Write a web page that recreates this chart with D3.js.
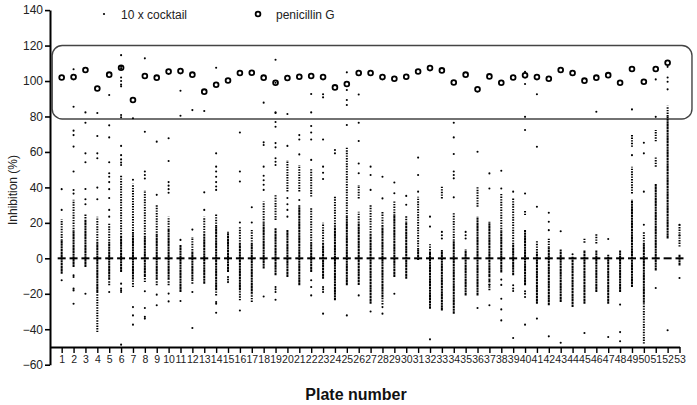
<!DOCTYPE html>
<html><head><meta charset="utf-8">
<script src="https://cdn.jsdelivr.net/npm/d3@7"></script>
<style>body{margin:0;background:#fff} svg{display:block;font-family:Arial,"Liberation Sans",sans-serif}</style>
</head><body><svg id="c" width="697" height="405"></svg>
<script>
const plates = d3.range(1, 54);
const yTicks = [-60, -40, -20, 0, 20, 40, 60, 80, 100, 120, 140];
const penicillinG = [102, 102.2, 106.2, 95.8, 103.6, 107.5, 89.3, 102.8, 101.9, 105.3,
  105.6, 103.6, 94, 97.9, 100.3, 104.5, 104.7, 101.9, 99, 101.7,
  102.4, 102.8, 102.2, 96.4, 98.3, 104.5, 104.5, 102.2, 101.3, 102.4,
  105.4, 107.3, 106, 99.2, 103.6, 95.3, 102.6, 99, 102, 103.2,
  102.2, 101.3, 106.2, 104.5, 100.2, 101.9, 103.3, 99, 106.8, 99.6,
  106.8, 110.3, null];
// 10 x cocktail: dense range per plate
const solidLo = [-8.7,-4.9,-4.9,-19,-12,-7.7,-12,-10,-12,-12,
  -19,-12,-14.3,-18,-7.7,-18,-20,-5.8,-9.6,-10.5,
  -15.2,-7.7,-11.5,-23.7,-15.2,-15,-25.6,-22,-10.5,-11.5,
  -1,-28.4,-29.4,-31.2,-20.9,-20.9,-10,-8,-9.6,-15.2,
  -25.6,-26.5,-24.6,-27.5,-25.6,-19,-25.6,-19,-16.2,-25,
  -6.8,11.2,-4];
const solidHi = [10,15,21,8.5,8.5,12,14,12,13,16,
  7.5,3,13,18,15,8,8,20,17,16,
  30,8.4,8,17.8,23.5,20,13,18,24,20,
  5,3,4.7,10,5,23.5,20.6,15,8,16,
  3,6,5,1,4.7,4.7,2,4.7,33,8,
  42,80,2];
// semi-dense runs of points per plate [low, high]
const runs = [
  [[10,22]], [[15,33]], [[21,25]], [[8.5,23.5],[-41.6,-19]], [[8.5,20],[-15.2,-12]],
  [[12,47]], [[14,42],[-16.2,-12]], [[12,38.6],[-13.4,-10]], [[13,30],[-15.2,-12]], [[16,23.5],[-15.2,-12]],
  [], [[3,12],[-14.3,-12]], [[13,23.5]], [[18,25],[-20.9,-18]], [],
  [[8,18],[-23.7,-18]], [[8,16],[-24.6,-20]], [[20,32]], [[21.6,35.8]], [[37.7,55.5]],
  [[37.7,52.6]], [[8.4,29],[34.8,50.7]], [[8,20]], [[17.8,35.4]], [[23.5,62.4]],
  [[20,26.3],[33.8,41.4]], [[13,30.2]], [[18,26.3],[-26,-22]], [[24,32]], [[20,24]],
  [[5,34.7]], [[3,8]], [[33.8,40.4]], [[10,26]], [],
  [[29.1,40.4]], [[-18,-10]], [[15,36.6]], [[8,34]], [[24.4,27.2]],
  [[3,10]], [[6,11]], [], [], [[8.8,11.8]],
  [[8.4,14.1]], [], [], [[36.6,51.7],[62.9,70]], [[8,15],[-48.1,-25]],
  [[51.7,57],[66,72.4]], [[80,86]], [[6.6,18.9]]
];
// isolated points per plate
const dots = [
  [39, 27.3, -12.4],
  [106.6, 85.5, 72, 69.5, 63, 49, 38.5, 36.5, -9.6, -10.5, -17.1, -18.1, -25.6],
  [82.3, 76.5, 59.2, 54.2, 39.1, 33.3, 30.5, -20],
  [82, 69, 59.2, 56.4, 39.9, 33.3],
  [92.1, 75, 68.2, 54.2, 48, 46, 43, 39, 34, 27.3, 23.5, -19],
  [114.6, 108, 107, 102, 100, 98, 97, 80.8, 79.5, 63.4, 58.2, 55.8, 54, 52.6, -14.3, -17, -18, -19, -48.7],
  [79, 44.3, -27.5, -32.2, -37.4],
  [112.8, 71.4, 49, 47, 45, -18.6, -28, -33, -34],
  [65.8, 35.8, -20.5, -26.5],
  [67.7, 54.9, 43, 41, 39, 37, -19.9, -24.3],
  [94.5, 80.4, 10.4, -24.1],
  [83.6, 16.2, -19, -39.3],
  [83.1, 37.2, 27.3],
  [107.5, 59.2, 51.7, 49, 46, 43, 40.5, 38.6, -24.6, -25.6, -30.7],
  [-10.5, -12, -13.4],
  [71, 49, 43.3, 20.2, -29.4],
  [28.8, 20.2],
  [87.8, 65.4, 63.9, 51.7, 46.6, 44, 41.5, 38.6, -21.5],
  [112, 99, 82.3, 82, 76.9, 74.2, 65, 62.6, 56.4, 54.5, 52.6, -16.2, -17.5, -19, -23.4],
  [81.4, 63.4, 34, 30.5, 27.3, 23.5],
  [69.5, 67, 58.6, 32.9],
  [92.7, 82.3, 74.6, 71, 67, 55.5, -12.4, -16.2, -20.9],
  [92.5, 90.8, 67, 51.7, 48.3, 44.7, -16.2, -17.5, -19, -31.2],
  [61.1, 59.2],
  [104.9, 94.9, 89.3, 86.5, 75.2, -32.2],
  [92.4, 76.5, 66.2, 53.5, 48, -20.9],
  [51.7, 47, 38.6, -30],
  [46, 33.8, -27.5, -31.2],
  [42.8, 36.7, -20],
  [35.2, 30.2],
  [56.8, 47, 37.6],
  [23.5, 17.9, -45.7],
  [14.9, 13, 11.2],
  [76.5, 68.2, 58.8, 49, 47, 45.1, 34.4],
  [14.9, 13, 11.2],
  [60.1, -28],
  [47.9, 39.4, -12.4, -15, -26.5],
  [49.4, 39.4, -12, -15, -22.8, -28.8, -35],
  [37.6, -15.2, -17, -18.4, -44.9],
  [105.2, 98.3, 79.8, 72.4, 36.6, -18.6, -20, -21.8, -37.4],
  [92.5, 62.9, 29.1, -34],
  [25.7, 20.6, 15.9, -44],
  [15.3, -47.6],
  [2.3],
  [-42.1],
  [82.7],
  [10.9, -44.4],
  [-26.1, -41.6, -46.8],
  [84, 58.2],
  [65.2, 59.2, 37.6, 18.9],
  [100.9, 79.8, -16.7],
  [108, 102, 99.6, 95.3, -40.6],
  [18.9, 13, -11.1]
];

const svg = d3.select("#c");
const x = d3.scaleLinear().domain([0, 53]).range([49.8, 679.5]);
const y = d3.scaleLinear().domain([-60, 140]).range([364.7, 10.1]);

// rounded highlight box around the penicillin G values
svg.append("rect")
  .attr("x", x(0.2)).attr("y", y(120))
  .attr("width", x(54.05) - x(0.2)).attr("height", y(78.6) - y(120))
  .attr("rx", 10).attr("ry", 10)
  .attr("fill", "none").attr("stroke", "#444").attr("stroke-width", 1.4);

// zero reference dashes
svg.append("g").selectAll("line").data(plates).join("line")
  .attr("x1", d => x(d) - 4).attr("x2", d => x(d) + 4)
  .attr("y1", y(0)).attr("y2", y(0))
  .attr("stroke", "#000").attr("stroke-width", 2);

// dense columns (stacked points)
svg.append("g").selectAll("line").data(plates).join("line")
  .attr("x1", d => x(d)).attr("x2", d => x(d))
  .attr("y1", (d, i) => y(solidLo[i])).attr("y2", (d, i) => y(solidHi[i]))
  .attr("stroke", "#000").attr("stroke-width", 2)
  .attr("stroke-dasharray", "2.4,0.4");

// semi-dense runs
const runData = [];
runs.forEach((r, i) => r.forEach(s => runData.push({p: plates[i], lo: s[0], hi: s[1]})));
svg.append("g").selectAll("line").data(runData).join("line")
  .attr("x1", d => x(d.p)).attr("x2", d => x(d.p))
  .attr("y1", d => y(d.lo)).attr("y2", d => y(d.hi))
  .attr("stroke", "#000").attr("stroke-width", 2)
  .attr("stroke-dasharray", "1.4,1.2");

// isolated points
const dotData = [];
dots.forEach((arr, i) => arr.forEach(v => dotData.push({p: plates[i], v})));
svg.append("g").selectAll("circle").data(dotData).join("circle")
  .attr("cx", d => x(d.p)).attr("cy", d => y(d.v)).attr("r", 1.05)
  .attr("fill", "#000");

// penicillin G
svg.append("g").selectAll("circle")
  .data(plates.map((p, i) => ({p, v: penicillinG[i]})).filter(d => d.v != null))
  .join("circle")
  .attr("cx", d => x(d.p)).attr("cy", d => y(d.v)).attr("r", 2.4)
  .attr("fill", "none").attr("stroke", "#000").attr("stroke-width", 1.8);

// axes
const yAxis = svg.append("g").attr("transform", "translate(50,0)")
  .call(d3.axisLeft(y).tickValues(yTicks).tickSize(5).tickSizeOuter(0).tickPadding(2));
yAxis.select(".domain").attr("stroke-width", 2);
yAxis.selectAll(".tick line").attr("stroke-width", 1.6);
yAxis.selectAll("text").attr("font-size", 12).attr("fill", "#222")
  .attr("font-family", "Arial, 'Liberation Sans', sans-serif");

const xAxis = svg.append("g").attr("transform", `translate(0,${y(-50)})`)
  .call(d3.axisBottom(x).tickValues(plates).tickSize(6).tickSizeOuter(0).tickPadding(3));
xAxis.select(".domain").attr("stroke-width", 2);
xAxis.selectAll(".tick line").attr("stroke-width", 1.4);
xAxis.selectAll("text").attr("font-size", 10.5).attr("fill", "#222")
  .attr("font-family", "Arial, 'Liberation Sans', sans-serif");

// titles
svg.append("text").attr("transform", "translate(17,190) rotate(-90)")
  .attr("text-anchor", "middle").attr("font-size", 12).attr("fill", "#222")
  .text("Inhibition (%)");
svg.append("text").attr("x", 356).attr("y", 400)
  .attr("text-anchor", "middle").attr("font-size", 16).attr("font-weight", "bold")
  .attr("fill", "#111").text("Plate number");

// legend
svg.append("circle").attr("cx", 104).attr("cy", 14).attr("r", 1.1).attr("fill", "#000");
svg.append("text").attr("x", 121).attr("y", 18.5).attr("font-size", 12).attr("fill", "#222")
  .text("10 x cocktail");
svg.append("circle").attr("cx", 258).attr("cy", 14).attr("r", 2.4)
  .attr("fill", "none").attr("stroke", "#000").attr("stroke-width", 1.8);
svg.append("text").attr("x", 276).attr("y", 18.5).attr("font-size", 12).attr("fill", "#222")
  .text("penicillin G");
</script></body></html>
